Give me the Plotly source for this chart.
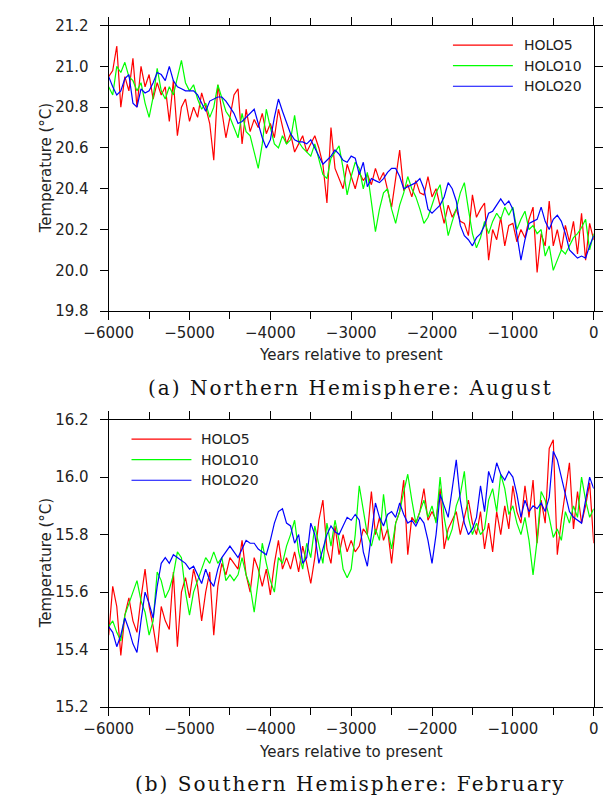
import plotly.graph_objects as go
from plotly.subplots import make_subplots

# Model years relative to present (50-year sampling)
years = list(range(-6000, 1, 50))

# (a) Northern Hemisphere, August mean temperature (deg C)
nh_holo5 = [
    20.95, 20.98, 21.10, 20.80, 20.95, 20.88, 21.04, 20.80, 21.00, 20.90,
    20.96, 20.84, 20.92, 20.86, 20.90, 20.73, 20.93, 20.66, 20.80, 20.84,
    20.73, 20.80, 20.75, 20.87, 20.80, 20.72, 20.54, 20.91, 20.78, 20.65,
    20.75, 20.86, 20.89, 20.62, 20.79, 20.68, 20.74, 20.70, 20.77, 20.67,
    20.72, 20.65, 20.79, 20.70, 20.62, 20.67, 20.58, 20.62, 20.66, 20.58,
    20.62, 20.66, 20.60, 20.52, 20.33, 20.70, 20.50, 20.45, 20.40, 20.52,
    20.46, 20.40, 20.48, 20.44, 20.47, 20.42, 20.50, 20.44, 20.48, 20.39,
    20.31, 20.45, 20.59, 20.39, 20.42, 20.36, 20.44, 20.38, 20.37, 20.46,
    20.36, 20.40, 20.31, 20.23, 20.32, 20.26, 20.30, 20.24, 20.23, 20.17,
    20.37, 20.26, 20.30, 20.33, 20.05, 20.20, 20.15, 20.26, 20.12, 20.22,
    20.23, 20.14, 20.20, 20.16, 20.25, 20.31, 19.99, 20.18, 20.12, 20.34,
    20.12, 20.20, 20.10, 20.22, 20.14, 20.24, 20.08, 20.28, 20.05, 20.23,
    20.15,
]
nh_holo10 = [
    20.90, 20.86, 21.00, 20.97, 21.02, 20.95, 20.93, 20.88, 20.92, 20.82,
    20.75, 20.85, 20.99, 20.88, 20.84, 20.90, 20.86, 20.95, 21.03, 20.92,
    20.88, 20.91, 20.84, 20.79, 20.82, 20.75, 20.80, 20.91, 20.84, 20.78,
    20.75, 20.70, 20.65, 20.77, 20.68, 20.66, 20.58, 20.50, 20.62, 20.79,
    20.70, 20.62, 20.60, 20.66, 20.62, 20.64, 20.76, 20.63, 20.60, 20.58,
    20.56, 20.62, 20.55, 20.47, 20.45, 20.55, 20.58, 20.61, 20.50, 20.37,
    20.46, 20.53, 20.50, 20.40, 20.48, 20.34, 20.19, 20.30, 20.38, 20.40,
    20.30, 20.23, 20.32, 20.38, 20.46, 20.40, 20.36, 20.30, 20.23, 20.26,
    20.32, 20.38, 20.42, 20.30, 20.17, 20.24, 20.30, 20.38, 20.43, 20.30,
    20.18, 20.11, 20.16, 20.24, 20.18, 20.24, 20.28, 20.25, 20.31, 20.27,
    20.31, 20.20, 20.25, 20.29, 20.20, 20.22, 20.18, 20.20, 20.07, 20.12,
    20.00, 20.05, 20.10, 20.08, 20.12, 20.16, 20.18, 20.21, 20.25, 20.10,
    20.18,
]
nh_holo20 = [
    20.95, 20.90, 20.86, 20.88, 20.94, 20.96, 20.82, 20.80, 20.89, 20.87,
    20.88, 20.92, 20.97, 20.96, 20.93, 21.00, 20.93, 20.90, 20.89, 20.88,
    20.88, 20.88, 20.86, 20.82, 20.78, 20.83, 20.84, 20.85, 20.85, 20.83,
    20.80, 20.77, 20.72, 20.73, 20.75, 20.77, 20.79, 20.72, 20.65, 20.60,
    20.64, 20.75, 20.84, 20.78, 20.72, 20.67, 20.64, 20.63, 20.63, 20.62,
    20.64, 20.60, 20.56, 20.52, 20.54, 20.56, 20.59, 20.57, 20.54, 20.53,
    20.56, 20.55, 20.47, 20.53, 20.41, 20.45, 20.44, 20.43, 20.45, 20.48,
    20.50, 20.50, 20.46, 20.40, 20.41, 20.42, 20.43, 20.45, 20.40, 20.30,
    20.28, 20.30, 20.32, 20.36, 20.43, 20.40, 20.34, 20.22, 20.17, 20.15,
    20.12, 20.16, 20.18, 20.22, 20.28, 20.29, 20.32, 20.35, 20.32, 20.34,
    20.30, 20.18, 20.05, 20.15, 20.23, 20.24, 20.25, 20.31, 20.24, 20.20,
    20.25, 20.27, 20.24, 20.18, 20.10, 20.08, 20.06, 20.07, 20.06, 20.12,
    20.17,
]

# (b) Southern Hemisphere, February mean temperature (deg C)
sh_holo5 = [
    15.45, 15.62, 15.55, 15.38, 15.52, 15.58, 15.50, 15.46, 15.58, 15.68,
    15.55, 15.48, 15.39, 15.55, 15.50, 15.47, 15.67, 15.41, 15.60, 15.65,
    15.58, 15.68, 15.62, 15.50, 15.60, 15.67, 15.45, 15.62, 15.70, 15.66,
    15.72, 15.70, 15.68, 15.78, 15.66, 15.60, 15.72, 15.68, 15.62, 15.68,
    15.59, 15.70, 15.78, 15.68, 15.72, 15.68, 15.74, 15.67, 15.76, 15.70,
    15.63, 15.72, 15.85, 15.92, 15.75, 15.70, 15.83, 15.73, 15.80, 15.74,
    15.78, 15.74, 15.76, 15.82, 15.80, 15.95, 15.80, 15.86, 15.78, 15.82,
    15.70, 15.84, 15.88, 15.99, 15.73, 15.86, 15.84, 15.88, 15.96, 15.85,
    15.88, 15.85, 15.96, 15.75, 15.82, 15.85, 15.88, 15.80, 15.86, 15.92,
    15.84, 15.80, 15.88, 15.75, 15.84, 15.74, 15.88, 15.80, 15.90, 15.82,
    15.97, 15.88, 15.84, 15.97, 15.86, 15.99, 15.77, 15.92, 15.84, 16.10,
    16.13, 15.73, 15.85, 15.95, 16.05, 15.82, 15.95, 15.84, 15.90, 15.98,
    15.77,
]
sh_holo10 = [
    15.48, 15.50, 15.46, 15.43, 15.52, 15.56, 15.60, 15.64, 15.57, 15.53,
    15.45, 15.50, 15.67, 15.64, 15.58, 15.61, 15.66, 15.74, 15.72, 15.60,
    15.52, 15.60, 15.64, 15.68, 15.72, 15.70, 15.74, 15.70, 15.72, 15.64,
    15.66, 15.64, 15.66, 15.72, 15.66, 15.62, 15.53, 15.64, 15.77, 15.70,
    15.64, 15.60, 15.72, 15.70, 15.76, 15.80, 15.85, 15.74, 15.68, 15.77,
    15.72, 15.83, 15.76, 15.70, 15.84, 15.76, 15.85, 15.78, 15.68, 15.65,
    15.68, 15.80, 15.97, 15.88, 15.80, 15.76, 15.82, 15.78, 15.94, 15.82,
    15.75, 15.84, 15.88, 15.95, 16.01, 15.92, 15.84, 15.88, 15.92, 15.86,
    15.90, 15.84, 16.00, 15.86, 15.78, 15.82, 15.90, 15.94, 16.02, 15.86,
    15.80, 15.84, 15.80, 15.82, 15.92, 15.96, 15.88, 16.01, 15.96, 15.87,
    15.90, 15.84, 15.80, 15.86, 15.78, 15.66, 15.78, 15.95, 15.92, 15.86,
    15.79, 15.82, 15.78, 15.88, 15.84, 15.90, 15.86, 16.00, 15.92, 15.86,
    15.89,
]
sh_holo20 = [
    15.48, 15.46, 15.41, 15.45, 15.51, 15.47, 15.42, 15.39, 15.50, 15.60,
    15.56, 15.51, 15.62, 15.70, 15.72, 15.70, 15.73, 15.72, 15.71, 15.70,
    15.68, 15.69, 15.66, 15.63, 15.68, 15.64, 15.62, 15.68, 15.72, 15.74,
    15.76, 15.74, 15.72, 15.75, 15.78, 15.77, 15.77, 15.75, 15.74, 15.73,
    15.78, 15.84, 15.88, 15.89, 15.84, 15.83, 15.77, 15.80, 15.70, 15.72,
    15.84, 15.80, 15.70, 15.75, 15.80, 15.83, 15.81, 15.80, 15.83, 15.86,
    15.85, 15.87, 15.85, 15.74, 15.69, 15.80, 15.91, 15.86, 15.83, 15.87,
    15.88, 15.86, 15.91, 15.87, 15.84, 15.85, 15.83, 15.86, 15.84, 15.78,
    15.70, 15.80, 15.94, 15.90, 15.86, 15.96, 16.06, 15.92, 15.84, 15.80,
    15.82, 15.86, 15.97, 15.88, 16.02, 15.98, 16.05, 16.01, 15.99, 16.02,
    16.00, 15.94, 15.86, 15.92, 15.88, 15.90, 15.89, 15.91, 15.88, 15.93,
    16.09, 16.06, 16.00, 15.94, 15.88, 15.86, 15.85, 15.84, 15.92, 16.00,
    15.96,
]

series_names = ["HOLO5", "HOLO10", "HOLO20"]
series_colors = ["#ff0000", "#00ff00", "#0000ff"]
panel_titles = ["(a) Northern Hemisphere: August", "(b) Southern Hemisphere: February"]

W, H = 612, 807


def px(x):
    return x / W


def py(y):
    return 1 - y / H


fig = make_subplots(rows=2, cols=1)

panels = [
    (1, [nh_holo5, nh_holo10, nh_holo20]),
    (2, [sh_holo5, sh_holo10, sh_holo20]),
]
for row, data in panels:
    for name, color, vals in zip(series_names, series_colors, data):
        fig.add_trace(
            go.Scatter(x=years, y=vals, mode="lines", name=name,
                       line=dict(color=color, width=1.2), showlegend=False),
            row=row, col=1,
        )

tick_font = dict(family="DejaVu Sans", size=15, color="#222222")
axis_common = dict(
    showline=True, linecolor="black", linewidth=1, mirror="ticks",
    ticks="outside", ticklen=8, tickcolor="black", tickwidth=1,
    showgrid=False, zeroline=False, tickfont=tick_font,
)
x_common = dict(axis_common, range=[-6000, 0], tick0=-6000, dtick=1000,
                minor=dict(ticks="outside", ticklen=7, dtick=500, tick0=-6000,
                           tickcolor="black", showgrid=False),
                ticklabelstandoff=0, domain=[px(88), px(598)])

fig.update_layout(
    width=W, height=H,
    margin=dict(l=0, r=0, t=0, b=0),
    paper_bgcolor="white", plot_bgcolor="white",
    showlegend=False,
    xaxis=dict(x_common),
    xaxis2=dict(x_common),
    yaxis=dict(axis_common, range=[19.8, 21.2], dtick=0.2, tick0=19.8,
               tickformat=".1f", ticklabelstandoff=8,
               domain=[py(309), py(17)]),
    yaxis2=dict(axis_common, range=[15.2, 16.2], dtick=0.2, tick0=15.2,
                tickformat=".1f", ticklabelstandoff=8,
                domain=[py(714), py(420)]),
)

annotations = []
shapes = []

# axis titles and panel captions
for x_title_y, y_mid, cap_y, cap in [
    (354, 163, 388, panel_titles[0]),
    (760, 567, 793, panel_titles[1]),
]:
    annotations.append(dict(
        text="Years relative to present", x=px(343), y=py(x_title_y),
        xref="paper", yref="paper", showarrow=False,
        xanchor="center", yanchor="middle",
        font=dict(family="DejaVu Sans", size=15, color="#222222")))
    annotations.append(dict(
        text="Temperature (\u00b0C)", x=px(22), y=py(y_mid),
        xref="paper", yref="paper", showarrow=False, textangle=-90,
        xanchor="center", yanchor="middle",
        font=dict(family="DejaVu Sans", size=15, color="#222222")))
    annotations.append(dict(
        text=cap, x=px(342), y=py(cap_y),
        xref="paper", yref="paper", showarrow=False,
        xanchor="center", yanchor="middle",
        font=dict(family="DejaVu Serif", size=20, color="#111111")))

# legend keys drawn inside each panel
legend_spots = [
    (450, 513, 523, [37, 58, 79]),
    (112, 175, 183, [440, 461, 482]),
]
for x0, x1, xt, ys in legend_spots:
    for name, color, yy in zip(series_names, series_colors, ys):
        shapes.append(dict(type="line", xref="paper", yref="paper",
                           x0=px(x0), x1=px(x1), y0=py(yy), y1=py(yy),
                           line=dict(color=color, width=1.2)))
        annotations.append(dict(
            text=name, x=px(xt), y=py(yy), xref="paper", yref="paper",
            showarrow=False, xanchor="left", yanchor="middle",
            font=dict(family="DejaVu Sans", size=14, color="#222222")))

fig.update_layout(annotations=annotations, shapes=shapes)

# widen the tracking of the serif panel captions
spacing_js = """
var st = document.createElement('style');
st.textContent = '.cap-wide{letter-spacing:2px}';
document.head.appendChild(st);
document.querySelectorAll('.annotation-text').forEach(function(e){
  if (e.textContent.indexOf('Hemisphere') >= 0) { e.classList.add('cap-wide'); }
});
"""

fig.write_html("out.html", post_script=spacing_js)
